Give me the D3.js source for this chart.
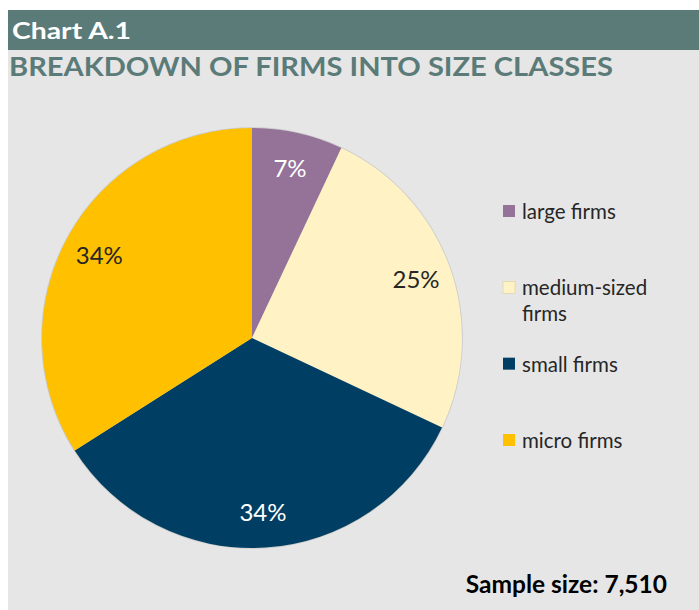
<!DOCTYPE html>
<html>
<head>
<meta charset="utf-8">
<script src="https://cdn.jsdelivr.net/npm/d3@7"></script>
<style>
  html, body { margin: 0; padding: 0; background: #ffffff; }
  svg { display: block; }
</style>
</head>
<body>
<svg id="chart" width="699" height="610"></svg>
<script>
// Firm size classes and their share of the sample (%)
const categories = ["large firms", "medium-sized firms", "small firms", "micro firms"];
const shares = [7, 25, 34, 34];
const sliceColors = ["#957399", "#fff2c4", "#003f63", "#ffc000"];
const labelColors = ["#ffffff", "#262626", "#ffffff", "#262626"];
const legendLines = [["large firms"], ["medium-sized", "firms"], ["small firms"], ["micro firms"]];
const sampleSize = 7510;

const svg = d3.select("#chart");
const W = 699, H = 610;
const FONT = "Lato, 'Open Sans', sans-serif";

// Panel background
svg.append("rect").attr("x", 8).attr("y", 10).attr("width", W - 8).attr("height", H - 10)
  .attr("fill", "#e6e6e6");

// Header bar
svg.append("rect").attr("x", 8).attr("y", 10).attr("width", W - 8).attr("height", 40)
  .attr("fill", "#5b7b78");
svg.append("text").attr("x", 12).attr("y", 39)
  .attr("font-family", FONT).attr("font-weight", 700)
  .attr("font-size", 23).attr("fill", "#ffffff")
  .attr("textLength", 119).attr("lengthAdjust", "spacingAndGlyphs")
  .text("Chart A.1");

svg.append("text").attr("x", 9).attr("y", 76)
  .attr("font-family", FONT).attr("font-weight", 700)
  .attr("font-size", 27).attr("fill", "#5b7b78")
  .attr("textLength", 604).attr("lengthAdjust", "spacingAndGlyphs")
  .text("BREAKDOWN OF FIRMS INTO SIZE CLASSES");

// Pie
const cx = 252, cy = 338, r = 210;
const pie = d3.pie().sort(null).value(d => d)(shares);
const arc = d3.arc().innerRadius(0).outerRadius(r);
const labelArc = d3.arc().innerRadius(r * 0.83).outerRadius(r * 0.83);

const g = svg.append("g").attr("transform", `translate(${cx},${cy})`);
g.append("circle").attr("r", r + 0.8).attr("fill", "#b8b8b8").attr("opacity", 0.6);
g.selectAll("path.slice").data(pie).join("path")
  .attr("class", "slice")
  .attr("d", arc)
  .attr("fill", (d, i) => sliceColors[i]);

g.selectAll("text.pct").data(pie).join("text")
  .attr("class", "pct")
  .attr("transform", d => `translate(${labelArc.centroid(d)})`)
  .attr("text-anchor", "middle").attr("dominant-baseline", "central")
  .attr("font-family", FONT)
  .attr("font-size", 24)
  .attr("fill", (d, i) => labelColors[i])
  .text(d => d.data + "%");

// Legend
const legendY = d3.scalePoint().domain(categories).range([211, 440]);
const lg = svg.append("g");
categories.forEach((c, i) => {
  const y = legendY(c);
  lg.append("rect").attr("x", 503).attr("y", y - 6).attr("width", 12).attr("height", 12)
    .attr("fill", sliceColors[i]).attr("stroke", i === 1 ? "#d9cf9a" : "none").attr("stroke-width", 0.6);
  legendLines[i].forEach((line, j) => {
    lg.append("text").attr("x", 522).attr("y", y + j * 26)
      .attr("dominant-baseline", "central")
      .attr("font-family", FONT)
      .attr("font-size", 20.5).attr("fill", "#262626").text(line);
  });
});

// Sample size note
svg.append("text").attr("x", 667).attr("y", 593).attr("text-anchor", "end")
  .attr("font-family", FONT).attr("font-weight", 700)
  .attr("font-size", 24.5).attr("fill", "#000000")
  .text("Sample size: " + d3.format(",")(sampleSize));
</script>
</body>
</html>
